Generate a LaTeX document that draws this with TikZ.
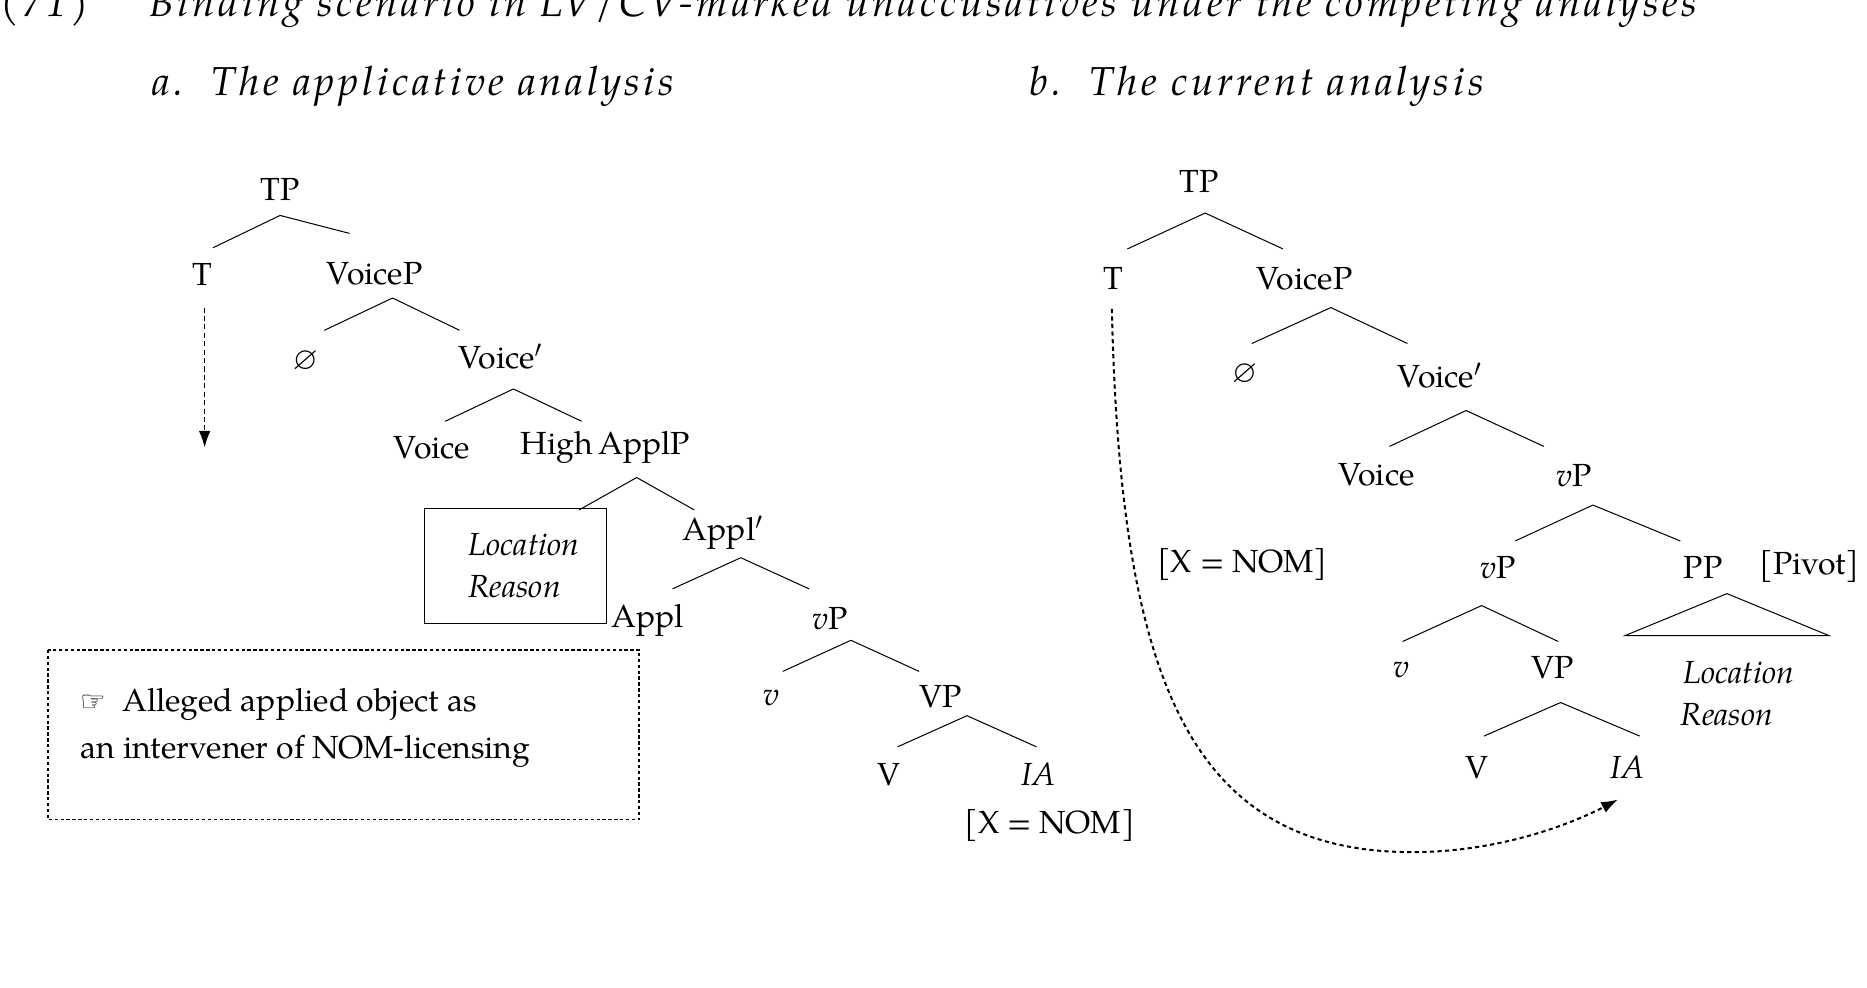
\documentclass[tikz,border=0pt]{standalone}
\usepackage{amssymb}
\usepackage{fontspec}
\setmainfont{TeX Gyre Pagella}
\usetikzlibrary{arrows.meta}
\begin{document}
\begin{tikzpicture}[x=0.025cm,y=-0.025cm,
  lab/.style={inner sep=0pt,font=\fontsize{19}{22}\selectfont},
  it/.style={inner sep=0pt,font=\fontsize{19}{22}\selectfont\itshape},
  br/.style={line width=0.6pt},
  hd/.style={inner sep=0pt,anchor=west,font=\fontsize{24}{28}\selectfont\itshape\addfontfeature{LetterSpace=9}}]
\useasboundingbox (0,0) rectangle (1560,825);
\node[hd,anchor=base west] (title) at (0,14) {(71)\hspace{1.5em}Binding scenario in LV/CV-marked unaccusatives under the competing analyses};
\node[hd] (ha) at (127,72) {a.\ \ The applicative analysis};
\node[hd] (hb) at (860,72) {b.\ \ The current analysis};
% left tree
\node[lab] (aTP) at (234,158) {TP};
\node[lab] (aT) at (169,229) {T};
\node[lab] (aVP) at (313,229) {VoiceP};
\node[lab] (aNull) at (255,302) {$\varnothing$};
\node[lab] (aVb) at (418,298) {Voice$'$};
\node[lab] (aVoice) at (361,374) {Voice};
\node[lab] (aHA) at (506,374) {High\,ApplP};
\draw[br] (355,425) rectangle (507,521);
\node[it] (aLoc) at (438,455) {Location};
\node[it] (aRea) at (430,490) {Reason};
\node[lab] (aAb) at (604,445) {Appl$'$};
\node[lab] (aAppl) at (541,518) {Appl};
\node[lab] (avP) at (694,517) {\textit{v}P};
\node[lab] (av) at (645,583) {\textit{v}};
\node[lab] (aVPP) at (786,582) {VP};
\node[lab] (aV) at (743,647) {V};
\node[lab] (aIA) at (868,647) {\textit{IA}};
\node[lab] (aX) at (877,690) {[X = NOM]};
\draw[br] (234,180)--(178,207) (234,180)--(292,195);
\draw[br] (328,249)--(271,276) (328,249)--(384,276);
\draw[br] (429,325)--(372,352) (429,325)--(486,352);
\draw[br] (532,399)--(484,426) (532,399)--(580,426);
\draw[br] (619,466)--(562,492) (619,466)--(676,492);
\draw[br] (711,535)--(654,561) (711,535)--(768,561);
\draw[br] (808,598)--(750,624) (808,598)--(866,624);
\coordinate (aTe) at (171,374);
\draw[line width=1pt,dash pattern=on 3pt off 2pt,-{Latex[length=10pt,width=7pt]}] (aT) ++(2,28) -- (aTe);
\draw[line width=0.8pt,dash pattern=on 2pt off 1.5pt] (40,543) rectangle (534,685);
\node[lab,anchor=west,align=left,font=\fontsize{19}{28}\selectfont] (note) at (67,608) {{\fontspec{DejaVu Sans}\fontsize{17}{28}\selectfont ☞}\ \ Alleged applied object as\\an intervener of NOM-licensing};
% right tree
\node[lab] (bTP) at (1002,152) {TP};
\node[lab] (bT) at (930,233) {T};
\node[lab] (bVP) at (1090,233) {VoiceP};
\node[lab] (bNull) at (1040,313) {$\varnothing$};
\node[lab] (bVb) at (1203,314) {Voice$'$};
\node[lab] (bVoice) at (1150,397) {Voice};
\node[lab] (bvP) at (1315,397) {\textit{v}P};
\node[lab] (bX) at (1038,472) {[X = NOM]};
\node[lab] (bvP2) at (1252,474) {\textit{v}P};
\node[lab] (bPP) at (1423,474) {PP};
\node[lab] (bPiv) at (1512,473) {[Pivot]};
\node[lab] (bv) at (1171,560) {\textit{v}};
\node[lab] (bVPP) at (1297,558) {VP};
\node[it] (bLoc) at (1453,562) {Location};
\node[it] (bRea) at (1443,597) {Reason};
\node[lab] (bV) at (1234,641) {V};
\node[lab] (bIA) at (1360,641) {\textit{IA}};
\draw[br] (1007,178)--(942,208) (1007,178)--(1072,208);
\draw[br] (1112,257)--(1046,287) (1112,257)--(1176,287);
\draw[br] (1225,343)--(1161,373) (1225,343)--(1290,373);
\draw[br] (1331,422)--(1266,452) (1331,422)--(1404,452);
\draw[br] (1238,506)--(1172,536) (1238,506)--(1302,536);
\draw[br] (1304,587)--(1240,615) (1304,587)--(1370,615);
\draw[br] (1443,496)--(1358,531)--(1528,531)--cycle;
\coordinate (bTs) at (929,258);
\coordinate (bIe) at (1352,668);
\draw[line width=1.2pt,dash pattern=on 2.5pt off 2pt,-{Latex[length=10pt,width=7pt]}] (bTs) .. controls (936,560) and (990,712) .. (1180,712) .. controls (1250,712) and (1310,690) .. (bIe);
\end{tikzpicture}
\end{document}
